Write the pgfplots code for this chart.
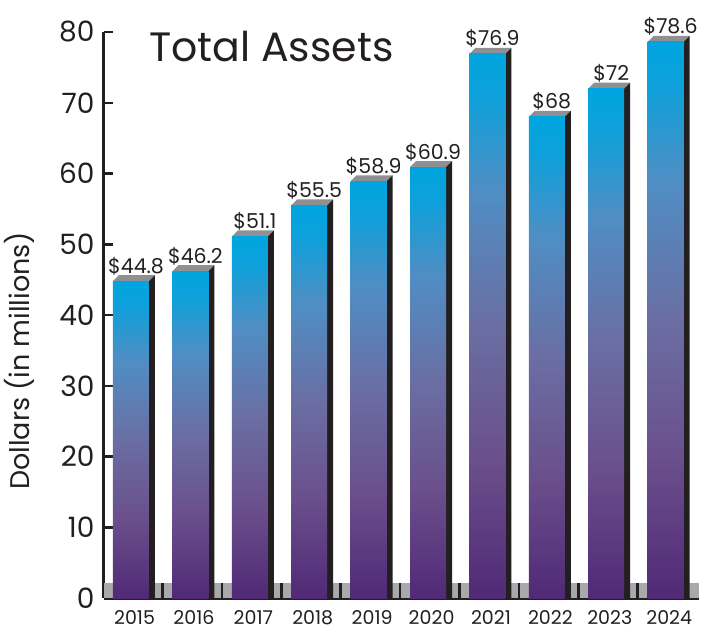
\documentclass[border=0pt]{standalone}
\usepackage{pgfplots}
\pgfplotsset{compat=1.18}
\usepackage{fontspec}
\setmainfont{Poppins}
\definecolor{textcol}{HTML}{231F20}
\definecolor{topgray}{HTML}{8E9093}
\definecolor{sideblack}{HTML}{231F20}
\definecolor{floorgray}{HTML}{A7A9AC}
\definecolor{c0}{HTML}{512977}
\definecolor{c1}{HTML}{6A4F8B}
\definecolor{c2}{HTML}{6A6EA3}
\definecolor{c3}{HTML}{4F8EC4}
\definecolor{c4}{HTML}{0EA0DA}
\definecolor{c5}{HTML}{00A5E0}
\pgfdeclareverticalshading{barshade}{100bp}{color(0bp)=(c0); color(25bp)=(c0); color(37.5bp)=(c1); color(50bp)=(c2); color(62.5bp)=(c3); color(71bp)=(c4); color(75bp)=(c5); color(100bp)=(c5)}
\begin{document}
\begin{tikzpicture}[x=1pt,y=1pt]
\useasboundingbox (0,0) rectangle (701,632);
\begin{axis}[
  at={(104pt,34pt)}, anchor=south west,
  width=595pt, height=566pt, scale only axis,
  xmin=-0.4545, xmax=9.562, ymin=0, ymax=80,
  clip=false,
  axis x line*=bottom, axis y line*=left,
  axis line style={line width=3pt, color=textcol, -},
  ytick={0,10,...,80},
  ytick style={line width=2.5pt, color=textcol},
  tick align=inside,
  major tick length=9pt,
  xtick={0.06,1.06,2.06,3.06,4.06,5.06,6.06,7.06,8.06,9.06},
  xticklabels={2015,2016,2017,2018,2019,2020,2021,2022,2023,2024},
  xtick style={draw=none},
  /pgf/number format/assume math mode=true,
  yticklabel style={font=\fontsize{28}{28}\selectfont, color=textcol, xshift=-6pt},
  xticklabel style={font=\fontsize{19}{19}\selectfont, color=textcol, yshift=-9pt},
  ylabel={Dollars (in millions)},
  ylabel style={at={(axis description cs:-0.142,0.419)}, anchor=center, font=\fontsize{27}{27}\selectfont, color=textcol},
]
% floor
\addplot[fill=floorgray, draw=none, forget plot] coordinates {(-0.4545,0) (9.562,0) (9.562,2.12) (-0.4545,2.12)} -- cycle;
\addplot[ycomb, color=sideblack, line width=2.5pt, mark=none, forget plot] coordinates {(0.53,2.12) (1.53,2.12) (2.53,2.12) (3.53,2.12) (4.53,2.12) (5.53,2.12) (6.53,2.12) (7.53,2.12) (8.53,2.12)};
% 3D bars: top face, side face, shaded front face
\pgfplotsforeachungrouped \idx/\val in {0/44.8,1/46.2,2/51.1,3/55.5,4/58.9,5/60.9,6/76.9,7/68,8/72,9/78.6}{%
  \pgfmathsetmacro\xa{\idx-0.303}%
  \pgfmathsetmacro\xb{\idx+0.303}%
  \pgfmathsetmacro\xc{\idx+0.404}%
  \pgfmathsetmacro\xd{\idx-0.202}%
  \pgfmathsetmacro\vt{\val+0.85}%
  \edef\tmp{\noexpand\addplot[fill=topgray,draw=none,forget plot] coordinates {(\xa,\val) (\xb,\val) (\xc,\vt) (\xd,\vt)} -- cycle;
    \noexpand\addplot[fill=sideblack,draw=none,forget plot] coordinates {(\xb,0) (\xb,\val) (\xc,\vt) (\xc,0)} -- cycle;
    \noexpand\addplot[ybar, bar shift=0pt, bar width=0.606, draw=none, shading=barshade, forget plot,
      nodes near coords={\noexpand\$\noexpand\pgfmathprintnumber{\noexpand\pgfplotspointmeta}},
      every node near coord/.append style={font=\noexpand\fontsize{20.5}{20.5}\noexpand\selectfont, color=textcol, anchor=base, yshift=8pt, xshift=5pt}]
      coordinates {(\idx,\val)};}%
  \tmp
}
\node[anchor=base west, font=\fontsize{41}{41}\selectfont, color=textcol] at (axis description cs:0.07,0.947) {Total Assets};
\end{axis}
\end{tikzpicture}
\end{document}
